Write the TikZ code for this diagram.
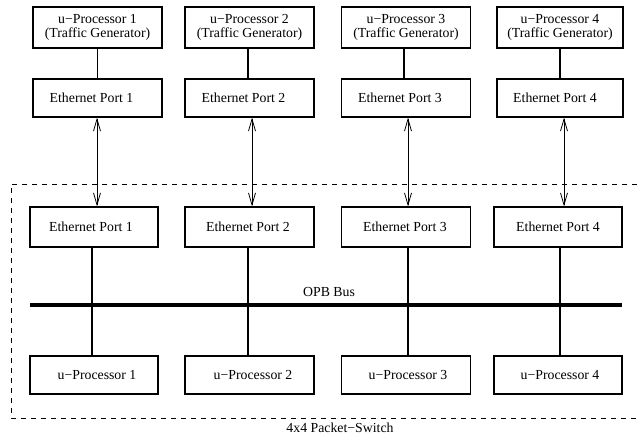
\documentclass[tikz,border=0pt]{standalone}
\usepackage{fontspec}
\setmainfont{Liberation Serif}
\usetikzlibrary{arrows.meta}
% shift a label sideways inside its box without changing the box
\newcommand\nudge[2]{\hspace*{#1}#2\hspace*{-#1}}
\begin{document}
\begin{tikzpicture}[x=1pt,y=-1pt,
  box/.style={draw,line width=1.3pt,rectangle,inner sep=0pt,minimum width=129pt,
    font=\fontsize{13.8}{13.5}\selectfont,align=center},
  tallbox/.style={box,minimum height=41pt},
  portbox/.style={box,minimum height=38pt},
  midbox/.style={box,minimum height=40pt},
  link/.style={line width=1.1pt},
  duplex/.style={line width=0.7pt,{Straight Barb[length=12pt,width=7pt,line width=0.8pt]}-{Straight Barb[length=12pt,width=7pt,line width=0.8pt]}},
  bus/.style={line width=3.2pt},
  frame/.style={line width=0.9pt,dash pattern=on 5pt off 5pt},
  caption/.style={font=\fontsize{13.8}{13.5}\selectfont,inner sep=0pt}]
\useasboundingbox (0,0) rectangle (637,439);

% traffic generators
\node[tallbox] (g1) at (97.5,27.5) {u−Processor 1\\(Traffic Generator)};
\node[tallbox] (g2) at (249.5,27.5) {u−Processor 2\\(Traffic Generator)};
\node[tallbox] (g3) at (406,27.5) {u−Processor 3\\(Traffic Generator)};
\node[tallbox,minimum width=126pt] (g4) at (560,27.5) {u−Processor 4\\(Traffic Generator)};

% external ethernet ports
\node[portbox] (x1) at (97.5,98) {\nudge{-6pt}{Ethernet Port 1}};
\node[portbox] (x2) at (249.5,98) {\nudge{-6pt}{Ethernet Port 2}};
\node[portbox] (x3) at (406,98) {\nudge{-6pt}{Ethernet Port 3}};
\node[portbox,minimum width=126pt] (x4) at (560,98) {\nudge{-5pt}{Ethernet Port 4}};

% switch ethernet ports
\node[midbox,minimum width=128pt] (p1) at (94,227) {\nudge{-3pt}{Ethernet Port 1}};
\node[midbox] (p2) at (249.5,227) {\nudge{-1.5pt}{Ethernet Port 2}};
\node[midbox] (p3) at (406,227) {\nudge{-1pt}{Ethernet Port 3}};
\node[midbox,minimum width=128pt] (p4) at (558,227) {\nudge{0pt}{Ethernet Port 4}};

% switch processors
\node[portbox,minimum width=128pt] (c1) at (94,375) {\nudge{3pt}{u−Processor 1}};
\node[portbox] (c2) at (249.5,375) {\nudge{3.5pt}{u−Processor 2}};
\node[portbox] (c3) at (406,375) {\nudge{2pt}{u−Processor 3}};
\node[portbox,minimum width=128pt] (c4) at (558,375) {\nudge{2pt}{u−Processor 4}};

% OPB bus
\coordinate (busL) at (30,305);
\coordinate (busR) at (622,305);
\draw[bus] (busL) -- (busR);
\node[caption] (busname) at (329,292) {OPB Bus};

% generator to port links
\draw[link] (g1.south) -- (x1.north);
\draw[link] ([xshift=-1.5pt]g2.south) -- ([xshift=-1.5pt]x2.north);
\draw[link] ([xshift=-2pt]g3.south) -- ([xshift=-2pt]x3.north);
\draw[link] (g4.south) -- (x4.north);

% cables between external and switch ports
\draw[duplex] ([xshift=-0.5pt]x1.south) -- ([xshift=3pt]p1.north);
\draw[duplex] ([xshift=2.5pt]x2.south) -- ([xshift=2.5pt]p2.north);
\draw[duplex] ([xshift=2pt]x3.south) -- ([xshift=2pt]p3.north);
\draw[duplex] ([xshift=4pt]x4.south) -- ([xshift=6pt]p4.north);

% port to processor links across the bus
\draw[link] ([xshift=-2pt]p1.south) -- ([xshift=-2pt]c1.north);
\draw[link] ([xshift=-1.5pt]p2.south) -- ([xshift=-1.5pt]c2.north);
\draw[link] ([xshift=2pt]p3.south) -- ([xshift=2pt]c3.north);
\draw[link] ([xshift=2pt]p4.south) -- ([xshift=2pt]c4.north);

% packet switch boundary (open on the right)
\coordinate (fTR) at (637,184);
\coordinate (fTL) at (11,184);
\coordinate (fBL) at (11,418);
\coordinate (fBR) at (637,418);
\draw[frame] (fTR) -- (fTL) -- (fBL) -- (fBR);
\node[caption] (swname) at (340,428) {4x4 Packet−Switch};
\end{tikzpicture}
\end{document}
